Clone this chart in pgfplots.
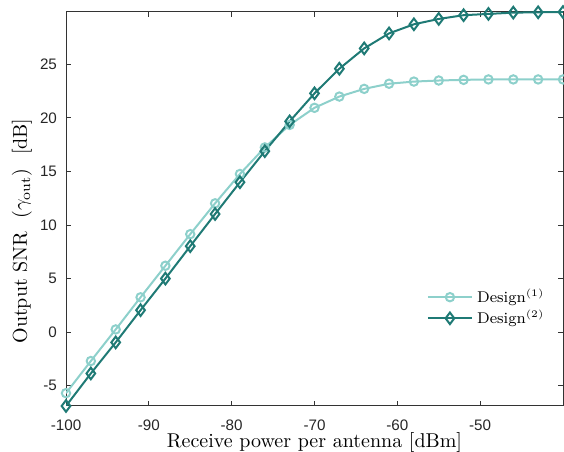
\documentclass[border=0pt]{standalone}
\usepackage{pgfplots}
\pgfplotsset{compat=1.18}
\usepackage{fontspec}
\usetikzlibrary{calc}
\newfontfamily\ticksans{Liberation Sans}
\definecolor{cA}{HTML}{8DD0CB}
\definecolor{cB}{HTML}{1F7A75}
\begin{document}
\begin{tikzpicture}
\begin{axis}[
  scale only axis,
  width=248.5pt, height=197pt,
  xmin=-100, xmax=-40,
  ymin=-6.9, ymax=29.9,
  xtick={-100,-90,-80,-70,-60,-50},
  ytick={-5,0,5,10,15,20,25},
  tick align=inside,
  major tick length=2.5pt,
  axis line style={black!80, line width=0.5pt},
  every tick/.style={black!80, line width=0.5pt},
  tick label style={font=\fontsize{7.6}{8}\ticksans, black!85},
  xticklabel style={yshift=-3.5pt},
  yticklabel style={xshift=-1pt},
  /pgf/number format/assume math mode=true,
  xlabel={Receive power per antenna [dBm]},
  ylabel={Output SNR~~$\left(\gamma_{\mathrm{out}}\right)$~~[dB]},
  xlabel style={at={(rel axis cs:0.5,0)}, anchor=center, yshift=-18pt, font=\fontsize{10}{12}\selectfont},
  ylabel style={at={(rel axis cs:0,0.444)}, anchor=center, yshift=22pt, font=\fontsize{10}{12}\selectfont},
  legend style={draw=none, fill=none, at={(0.713,0.318)}, anchor=north west, font=\fontsize{7.8}{9.5}\selectfont, row sep=-1.5pt},
  legend cell align=left,
  legend image code/.code={\draw[mark repeat=2,mark phase=2] plot coordinates {(0cm,0cm) (0.39cm,0cm) (0.78cm,0cm)};},
]
\addplot[cA, line width=1pt, mark=o, mark size=2.1pt, mark options={line width=1pt}] coordinates {
(-100,-5.7) (-97,-2.7) (-94,0.25) (-91,3.25) (-88,6.2) (-85,9.15) (-82,12.03) (-79,14.77) (-76,17.25) (-73,19.35) (-70,20.95) (-67,22.0) (-64,22.72) (-61,23.2) (-58,23.4) (-55,23.5) (-52,23.56) (-49,23.6) (-46,23.6) (-43,23.6) (-40,23.6)
};
\addlegendentry{Design$^{(1)}$}
\addplot[cB, line width=1pt, mark=diamond, mark size=2.9pt, mark options={line width=1pt}] coordinates {
(-100,-6.9) (-97,-3.86) (-94,-0.96) (-91,2.05) (-88,5.0) (-85,8.03) (-82,11.03) (-79,14.0) (-76,16.9) (-73,19.68) (-70,22.3) (-67,24.6) (-64,26.5) (-61,27.9) (-58,28.75) (-55,29.25) (-52,29.6) (-49,29.72) (-46,29.84) (-43,29.87) (-40,29.9)
};
\addlegendentry{Design$^{(2)}$}
\end{axis}
\pgfresetboundingbox
\path[use as bounding box] ($(current axis.south west)+(-33pt,-23pt)$) rectangle ($(current axis.north east)+(0.5pt,6pt)$);
\end{tikzpicture}
\end{document}
